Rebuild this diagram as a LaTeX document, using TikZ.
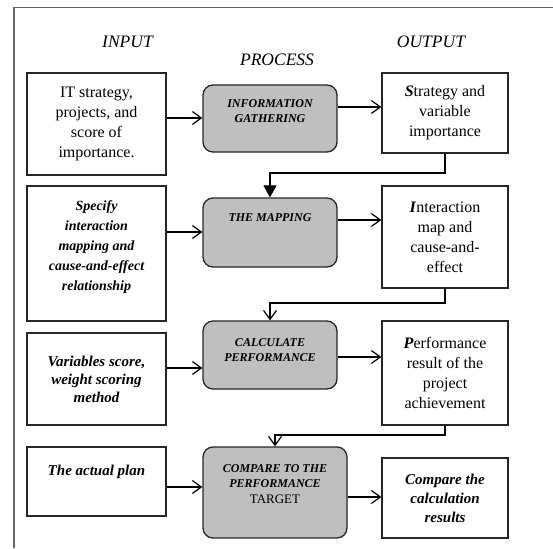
\documentclass[tikz,border=0pt]{standalone}
\usepackage{fontspec}
\setmainfont{Liberation Serif}
\usetikzlibrary{arrows.meta}
\newcommand\bt[4]{\begin{minipage}[c][#2][#3]{#1}\centering #4\end{minipage}}
\newcommand\rf{\fontsize{16}{20}\selectfont}
\newcommand\bif{\fontsize{15}{19}\selectfont\bfseries\itshape}
\newcommand\pf{\fontsize{12}{15}\selectfont\bfseries\itshape}
\newcommand\bi[1]{\textbf{\textit{#1}}}
\begin{document}
\begin{tikzpicture}[x=1pt,y=-1pt,
  box/.style={draw=black!85, line width=1.3pt, inner sep=0pt, fill=white},
  pbox/.style={box, fill=black!25, rounded corners=10pt},
  head/.style={font=\fontsize{17.5}{20}\selectfont\itshape, inner sep=0pt},
  arr/.style={line width=1.2pt, -{Straight Barb[length=9pt,width=13pt]}},
  link/.style={line width=1.2pt}]
\useasboundingbox (0,0) rectangle (553,548);
\draw[black!60, line width=1.2pt] (553,7.5) -- (14,7.5) -- (14,548);

\node[head] (hin) at (127.5,42) {INPUT};
\node[head] (hpr) at (277,60) {PROCESS};
\node[head] (hout) at (431,42) {OUTPUT};

% row 1
\node[box] (in1) at (96.5,124) {\bt{139pt}{102pt}{c}{\rf IT strategy,\\ projects, and\\ score of\\ importance.}};
\node[pbox] (p1) at (270,118.5) {\bt{134pt}{67pt}{t}{\pf\rule{0pt}{23pt}INFORMATION\\ GATHERING}};
\node[box] (out1) at (445,113) {\bt{126pt}{80pt}{c}{\rf \bi{S}trategy and\\ variable\\ importance}};

% row 2
\node[box] (in2) at (96.5,253.5) {\bt{139pt}{135pt}{c}{\fontsize{14}{20}\selectfont\bfseries\itshape Specify\\ interaction\\ mapping and\\ cause-and-effect\\ relationship\par\vspace{12pt}}};
\node[pbox] (p2) at (270,232.5) {\bt{134pt}{69pt}{t}{\pf\rule{0pt}{23pt}THE MAPPING}};
\node[box] (out2) at (445,237) {\bt{126pt}{102pt}{c}{\rf \bi{I}nteraction\\ map and\\ cause-and-\\ effect}};

% row 3
\node[box] (in3) at (96.5,379) {\bt{139pt}{92pt}{c}{\fontsize{15}{18}\selectfont\bfseries\itshape Variables score,\\ weight scoring\\ method}};
\node[pbox] (p3) at (270,355) {\bt{134pt}{68pt}{t}{\pf\rule{0pt}{25pt}CALCULATE\\ PERFORMANCE}};
\node[box] (out3) at (445,373) {\bt{126pt}{104pt}{c}{\rf \bi{P}erformance\\ result of the\\ project\\ achievement}};

% row 4
\node[box] (in4) at (96.5,481.5) {\bt{139pt}{69pt}{t}{\bif\rule{0pt}{28pt}The actual plan}};
\node[pbox] (p4) at (275,492.5) {\bt{144pt}{91pt}{t}{\pf\rule{0pt}{25pt}COMPARE TO THE\\ PERFORMANCE\\[1.5pt] {\mdseries\upshape\fontsize{13}{15}\selectfont TARGET}}};
\node[box] (out4) at (445,498) {\bt{126pt}{80pt}{c}{\bif Compare the\\ calculation\\ results}};

% horizontal arrows
\draw[arr] (in1.east |- 0,118) -- (p1.west |- 0,118);
\draw[arr] (p1.east |- 0,107) -- (out1.west |- 0,107);
\draw[arr] (in2.east |- 0,232) -- (p2.west |- 0,232);
\draw[arr] (p2.east |- 0,220) -- (out2.west |- 0,220);
\draw[arr] (in3.east |- 0,368) -- (p3.west |- 0,368);
\draw[arr] (p3.east |- 0,357) -- (out3.west |- 0,357);
\draw[arr] (in4.east |- 0,487) -- (p4.west |- 0,487);
\draw[arr] (p4.east |- 0,497) -- (out4.west |- 0,497);

% vertical connectors
\draw[link, -{Triangle[length=12pt,width=13pt]}] (out1.south) -- (out1.south |- 0,173) -| (p2.north);
\draw[arr] (out2.south) -- (out2.south |- 0,303) -| (p3.north);
\draw[arr] (out3.south) -- (out3.south |- 0,435) -| (p4.north);
\end{tikzpicture}
\end{document}
